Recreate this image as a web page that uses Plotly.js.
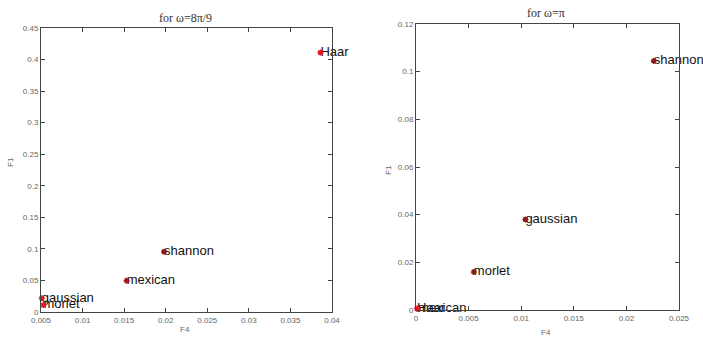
<!DOCTYPE html>
<html><head><meta charset="utf-8">
<script src="https://cdn.plot.ly/plotly-3.0.1.min.js"></script>
<style>html,body{margin:0;padding:0;background:#fff}#c{width:703px;height:339px}</style>
</head><body><div id="c"></div>
<script>
// Left panel: for ω=8π/9
const leftNames = ["Haar", "shannon", "mexican", "gaussian", "morlet"];
const leftF4 = [0.0386, 0.0198, 0.0153, 0.0051, 0.0053];
const leftF1 = [0.411, 0.0955, 0.0496, 0.0217, 0.011];
const leftXTicks = [0.005, 0.01, 0.015, 0.02, 0.025, 0.03, 0.035, 0.04];
const leftXText = ["0.005", "0.01", "0.015", "0.02", "0.025", "0.03", "0.035", "0.04"];
const leftYTicks = [0, 0.05, 0.1, 0.15, 0.2, 0.25, 0.3, 0.35, 0.4, 0.45];
const leftYText = ["0", "0.05", "0.1", "0.15", "0.2", "0.25", "0.3", "0.35", "0.4", "0.45"];

// Right panel: for ω=π
const rightNames = ["shannon", "gaussian", "morlet", "Haar", "mexican"];
const rightF4 = [0.0226, 0.0104, 0.0055, 0.0001, 0.0002];
const rightF1 = [0.1045, 0.038, 0.016, 0.0006, 0.0004];
const rightXTicks = [0, 0.005, 0.01, 0.015, 0.02, 0.025];
const rightXText = ["0", "0.005", "0.01", "0.015", "0.02", "0.025"];
const rightYTicks = [0, 0.02, 0.04, 0.06, 0.08, 0.1, 0.12];
const rightYText = ["0", "0.02", "0.04", "0.06", "0.08", "0.1", "0.12"];

const leftColors = ["#e8141c", "#8b1a1a", "#a0161c", "#e8141c", "#e8141c"];
const rightColors = ["#8b1a1a", "#8b1a1a", "#8b1a1a", "#e8141c", "#e8141c"];

const labelFont = {family: "Liberation Sans, Arial, sans-serif", size: 13, color: "#111"};

function markers(x, y, colors, xa, ya) {
  return {x: x, y: y, mode: "markers", type: "scatter", xaxis: xa, yaxis: ya, cliponaxis: false,
    marker: {symbol: "asterisk-open", size: 5, color: colors, line: {color: colors, width: 1.5}},
    showlegend: false};
}
function labels(x, y, names, xa, ya) {
  return {x: x, y: y, text: names, mode: "text", textposition: "middle right", type: "scatter",
    xaxis: xa, yaxis: ya, cliponaxis: false, marker: {size: 0.1}, textfont: labelFont, showlegend: false};
}

const traces = [
  labels(leftF4, leftF1, leftNames, "x", "y"),
  markers(leftF4, leftF1, leftColors, "x", "y"),
  labels(rightF4, rightF1, rightNames, "x2", "y2"),
  markers(rightF4, rightF1, rightColors, "x2", "y2")
];

const tickFont = {family: "Liberation Sans, Arial, sans-serif", size: 8, color: "#666"};
function ax(domain, range, vals, text, anchor) {
  return {domain: domain, range: range, tickmode: "array", tickvals: vals, ticktext: text,
    ticks: "inside", ticklen: 4, tickcolor: "#444", showgrid: false, zeroline: false,
    showline: true, linecolor: "#444", linewidth: 1, mirror: "ticks",
    tickfont: tickFont, anchor: anchor, automargin: false, fixedrange: true};
}

const serif = {family: "Liberation Serif, Times New Roman, serif", size: 12, color: "#333"};
const small = {family: "Liberation Sans, Arial, sans-serif", size: 8, color: "#666"};
function note(text, x, y, font, angle) {
  return {text: text, xref: "paper", yref: "paper", x: x / 703, y: 1 - y / 339,
    xanchor: "center", yanchor: "middle", showarrow: false, font: font, textangle: angle || 0};
}

const layout = {
  width: 703, height: 339,
  margin: {l: 0, r: 0, t: 0, b: 0},
  paper_bgcolor: "#fff", plot_bgcolor: "#fff",
  xaxis: ax([0.0583, 0.4723], [0.005, 0.04], leftXTicks, leftXText, "y"),
  yaxis: ax([0.0796, 0.9174], [0, 0.45], leftYTicks, leftYText, "x"),
  xaxis2: ax([0.5917, 0.9659], [0, 0.025], rightXTicks, rightXText, "y2"),
  yaxis2: ax([0.0855, 0.9292], [0, 0.12], rightYTicks, rightYText, "x2"),
  annotations: [
    note("for ω=8π/9", 185, 18, serif),
    note("for ω=π", 546, 13, serif),
    note("F4", 185, 329, small),
    note("F4", 546, 332, small),
    note("F1", 10, 162, small, -90),
    note("F1", 388, 170, small, -90)
  ]
};

Plotly.newPlot("c", traces, layout, {displayModeBar: false, staticPlot: true});
</script>
</body></html>
